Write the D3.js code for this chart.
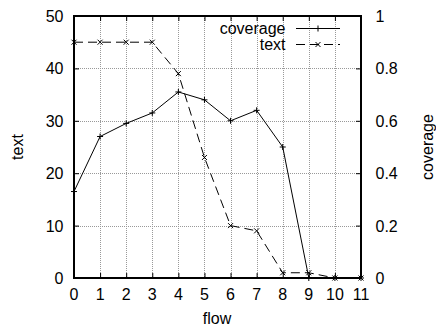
<!DOCTYPE html>
<html>
<head>
<meta charset="utf-8">
<script src="https://cdn.jsdelivr.net/npm/d3@7"></script>
<style>
  body { margin: 0; background: #fff; }
  text { font-family: "Liberation Sans", Arial, sans-serif; }
</style>
</head>
<body>
<div id="chart"></div>
<script>
// data
let flow = [0, 1, 2, 3, 4, 5, 6, 7, 8, 9, 10, 11];
let coverage = [0.33, 0.54, 0.59, 0.63, 0.71, 0.68, 0.60, 0.64, 0.50, 0, 0, 0];
let textVals = [45, 45, 45, 45, 39, 23, 10, 9, 1, 1, 0, 0];
let leftTicks = [0, 10, 20, 30, 40, 50];
let rightTicks = [0, 0.2, 0.4, 0.6, 0.8, 1];

let width = 436, height = 326;
let pLeft = 74, pRight = 361, pTop = 16, pBottom = 278;

let svg = d3.select("#chart").append("svg")
    .attr("width", width)
    .attr("height", height);

let x = d3.scaleLinear().domain([0, 11]).range([pLeft, pRight]);
let y = d3.scaleLinear().domain([0, 50]).range([pBottom, pTop]);
let y2 = d3.scaleLinear().domain([0, 1]).range([pBottom, pTop]);

// grid
let grid = svg.append("g")
    .attr("stroke", "#999")
    .attr("stroke-width", 1)
    .attr("stroke-dasharray", "1,1");
grid.selectAll("line.gx")
    .data(flow.slice(1, -1))
    .enter().append("line")
    .attr("x1", d => Math.round(x(d)) + 0.5).attr("x2", d => Math.round(x(d)) + 0.5)
    .attr("y1", pTop).attr("y2", pBottom);
grid.selectAll("line.gy")
    .data(leftTicks.slice(1, -1))
    .enter().append("line")
    .attr("y1", d => Math.round(y(d)) + 0.5).attr("y2", d => Math.round(y(d)) + 0.5)
    .attr("x1", pLeft).attr("x2", pRight);

// axes (ticks pointing inward, like gnuplot)
let fs = 16;
let bAxis = svg.append("g").attr("transform", "translate(0," + pBottom + ")")
    .call(d3.axisTop(x).tickValues(flow).tickSize(5).tickFormat(""));
let tAxis = svg.append("g").attr("transform", "translate(0," + pTop + ")")
    .call(d3.axisBottom(x).tickValues(flow).tickSize(5).tickFormat(""));
let lAxis = svg.append("g").attr("transform", "translate(" + pLeft + ",0)")
    .call(d3.axisRight(y).tickValues(leftTicks).tickSize(5).tickFormat(""));
let rAxis = svg.append("g").attr("transform", "translate(" + pRight + ",0)")
    .call(d3.axisLeft(y2).tickValues(rightTicks).tickSize(5).tickFormat(""));
[bAxis, tAxis, lAxis, rAxis].forEach(a => {
    a.select(".domain").remove();
    a.selectAll("line").attr("stroke", "#000");
});

// tick labels
svg.append("g").selectAll("text")
    .data(flow).enter().append("text")
    .attr("x", d => x(d)).attr("y", 300)
    .attr("text-anchor", "middle").attr("font-size", fs)
    .text(d => d);
svg.append("g").selectAll("text")
    .data(leftTicks).enter().append("text")
    .attr("x", 63.5).attr("y", d => y(d) + 6)
    .attr("text-anchor", "end").attr("font-size", fs)
    .text(d => d);
svg.append("g").selectAll("text")
    .data(rightTicks).enter().append("text")
    .attr("x", 375.5).attr("y", d => y2(d) + 6)
    .attr("text-anchor", "start").attr("font-size", fs)
    .text(d => d);

// axis titles
svg.append("text").attr("x", 217).attr("y", 323.5)
    .attr("text-anchor", "middle").attr("font-size", fs).text("flow");
svg.append("text").attr("transform", "translate(22.5,147) rotate(-90)")
    .attr("text-anchor", "middle").attr("font-size", fs).text("text");
svg.append("text").attr("transform", "translate(432.5,147) rotate(-90)")
    .attr("text-anchor", "middle").attr("font-size", fs).text("coverage");

// border
svg.append("rect")
    .attr("x", pLeft).attr("y", pTop)
    .attr("width", pRight - pLeft).attr("height", pBottom - pTop)
    .attr("fill", "none").attr("stroke", "#000").attr("stroke-width", 2);

// series
let covLine = d3.line().x((d, i) => x(flow[i])).y(d => y2(d));
let txtLine = d3.line().x((d, i) => x(flow[i])).y(d => y(d));

svg.append("path").datum(coverage)
    .attr("d", covLine).attr("fill", "none")
    .attr("stroke", "#000").attr("stroke-width", 1);
svg.append("path").datum(textVals)
    .attr("d", txtLine).attr("fill", "none")
    .attr("stroke", "#000").attr("stroke-width", 1)
    .attr("stroke-dasharray", "9,5");

function plusPath(cx, cy) {
    return "M" + (cx - 3) + "," + cy + "H" + (cx + 3) + "M" + cx + "," + (cy - 3) + "V" + (cy + 3);
}
function crossPath(cx, cy) {
    return "M" + (cx - 2.5) + "," + (cy - 2.5) + "L" + (cx + 2.5) + "," + (cy + 2.5) +
        "M" + (cx - 2.5) + "," + (cy + 2.5) + "L" + (cx + 2.5) + "," + (cy - 2.5);
}
svg.append("g").selectAll("path")
    .data(coverage).enter().append("path")
    .attr("d", (d, i) => plusPath(x(flow[i]), y2(d)))
    .attr("stroke", "#000").attr("stroke-width", 1);
svg.append("g").selectAll("path")
    .data(textVals).enter().append("path")
    .attr("d", (d, i) => crossPath(x(flow[i]), y(d)))
    .attr("stroke", "#000").attr("stroke-width", 1);

// legend
let legend = svg.append("g");
legend.append("text").attr("x", 285.5).attr("y", 33.5)
    .attr("text-anchor", "end").attr("font-size", fs).text("coverage");
legend.append("line").attr("x1", 296).attr("x2", 340).attr("y1", 28.5).attr("y2", 28.5)
    .attr("stroke", "#000");
legend.append("path").attr("d", plusPath(318, 28.5)).attr("stroke", "#000");
legend.append("text").attr("x", 285.5).attr("y", 50)
    .attr("text-anchor", "end").attr("font-size", fs).text("text");
legend.append("line").attr("x1", 296).attr("x2", 340).attr("y1", 44.5).attr("y2", 44.5)
    .attr("stroke", "#000").attr("stroke-dasharray", "9,5");
legend.append("path").attr("d", crossPath(318, 44.5)).attr("stroke", "#000");
</script>
</body>
</html>
